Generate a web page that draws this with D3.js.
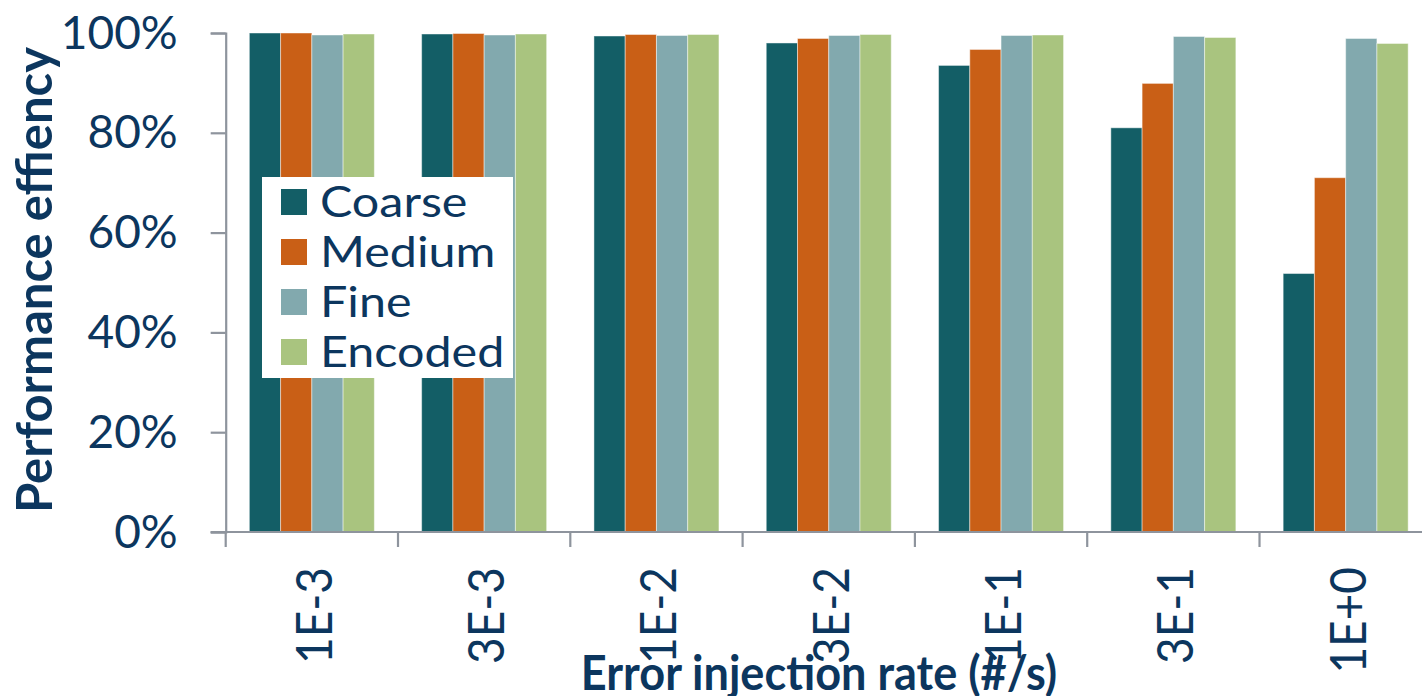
<!DOCTYPE html>
<html>
<head>
<meta charset="utf-8">
<script src="https://cdn.jsdelivr.net/npm/d3@7"></script>
<style>
  html, body { margin: 0; padding: 0; background: #fff; overflow: hidden; }
  svg { display: block; }
  text { font-family: Lato, "Open Sans", sans-serif; }
</style>
</head>
<body>
<svg id="chart" width="1422" height="696"></svg>
<script>
// Error injection rates (x categories)
const rates = ["1E-3", "3E-3", "1E-2", "3E-2", "1E-1", "3E-1", "1E+0"];
// Protection granularity schemes
const schemes = ["Coarse", "Medium", "Fine", "Encoded"];
// Performance efficiency per scheme, one value per rate
const coarse  = [1.000, 0.998, 0.994, 0.980, 0.935, 0.810, 0.518];
const medium  = [1.000, 0.999, 0.997, 0.989, 0.967, 0.899, 0.710];
const fine    = [0.996, 0.996, 0.995, 0.995, 0.995, 0.993, 0.989];
const encoded = [0.998, 0.998, 0.997, 0.997, 0.996, 0.991, 0.979];
const yTicks = [0, 0.2, 0.4, 0.6, 0.8, 1.0];

const seriesValues = [coarse, medium, fine, encoded];
const colors = ["#135e66", "#c95f16", "#82a9ae", "#a9c47f"];
const textColor = "#0c365e";
const axisColor = "#8e949d";

const svg = d3.select("#chart");
const plotLeft = 225.7, bandStep = 172.3, plotTop = 33, plotBottom = 532;

const x = d3.scaleBand()
  .domain(rates)
  .range([plotLeft, plotLeft + bandStep * rates.length])
  .paddingInner(0.2745)
  .paddingOuter(0.1372);

const x1 = d3.scaleBand()
  .domain(schemes)
  .range([0, x.bandwidth()]);

const y = d3.scaleLinear().domain([0, 1]).range([plotBottom, plotTop]);
const color = d3.scaleOrdinal().domain(schemes).range(colors);

// Bars
const groups = svg.append("g")
  .selectAll("g")
  .data(rates.map((r, i) => ({ rate: r, values: schemes.map((s, k) => ({ scheme: s, value: seriesValues[k][i] })) })))
  .join("g")
  .attr("transform", d => `translate(${x(d.rate)},0)`);

groups.selectAll("rect")
  .data(d => d.values)
  .join("rect")
  .attr("x", d => x1(d.scheme))
  .attr("y", d => y(d.value))
  .attr("width", x1.bandwidth())
  .attr("height", d => y(0) - y(d.value))
  .attr("fill", d => color(d.scheme))
  .attr("stroke", "rgba(255,255,255,0.45)")
  .attr("stroke-width", 1);

// Y axis
const yAxis = d3.axisLeft(y)
  .tickValues(yTicks)
  .tickFormat(d3.format(".0%"))
  .tickSize(15)
  .tickPadding(33);

const gy = svg.append("g").attr("transform", `translate(${plotLeft},0)`).call(yAxis);
gy.select(".domain").attr("stroke", axisColor).attr("stroke-width", 2.2);
gy.selectAll(".tick line").attr("stroke", axisColor).attr("stroke-width", 2.2);
gy.selectAll(".tick text")
  .attr("fill", textColor)
  .style("font-size", "46px")
  .attr("dy", "0.33em");

// X axis: band boundaries carry the tick marks
const gx = svg.append("g").attr("transform", `translate(0,${plotBottom})`);
gx.append("line")
  .attr("x1", plotLeft - 15).attr("x2", 1422)
  .attr("stroke", axisColor).attr("stroke-width", 2.2);
gx.selectAll("line.sep")
  .data(rates)
  .join("line")
  .attr("class", "sep")
  .attr("x1", d => x(d) - x.step() * x.paddingOuter())
  .attr("x2", d => x(d) - x.step() * x.paddingOuter())
  .attr("y1", 0).attr("y2", 15)
  .attr("stroke", axisColor).attr("stroke-width", 2.2);
gx.selectAll("text")
  .data(rates)
  .join("text")
  .attr("transform", d => `translate(${x(d) + x.bandwidth() / 2 + 2},35) scale(1.08,1) rotate(-90)`)
  .attr("text-anchor", "end")
  .attr("dy", "0.36em")
  .attr("fill", textColor)
  .style("font-size", "46px")
  .text(d => d);

// Axis titles
svg.append("text")
  .attr("transform", "translate(52,280) rotate(-90)")
  .attr("text-anchor", "middle")
  .attr("fill", textColor)
  .style("font-size", "49px")
  .style("font-weight", "700")
  .text("Performance effiency");

svg.append("text")
  .attr("transform", "translate(819,690) scale(0.93,1)")
  .attr("text-anchor", "middle")
  .attr("fill", textColor)
  .style("font-size", "48.5px")
  .style("font-weight", "700")
  .text("Error injection rate (#/s)");

// Legend
const legend = svg.append("g").attr("transform", "translate(262,177)");
legend.append("rect")
  .attr("width", 251).attr("height", 201)
  .attr("fill", "#fff");
const items = legend.selectAll("g.item")
  .data(schemes)
  .join("g")
  .attr("class", "item")
  .attr("transform", (d, i) => `translate(19,${12 + i * 50})`);
items.append("rect")
  .attr("width", 26).attr("height", 26)
  .attr("fill", d => color(d));
items.append("text")
  .attr("transform", "translate(39,13) scale(1.14,1)")
  .attr("dy", "0.36em")
  .attr("fill", textColor)
  .style("font-size", "42.5px")
  .text(d => d);
</script>
</body>
</html>
